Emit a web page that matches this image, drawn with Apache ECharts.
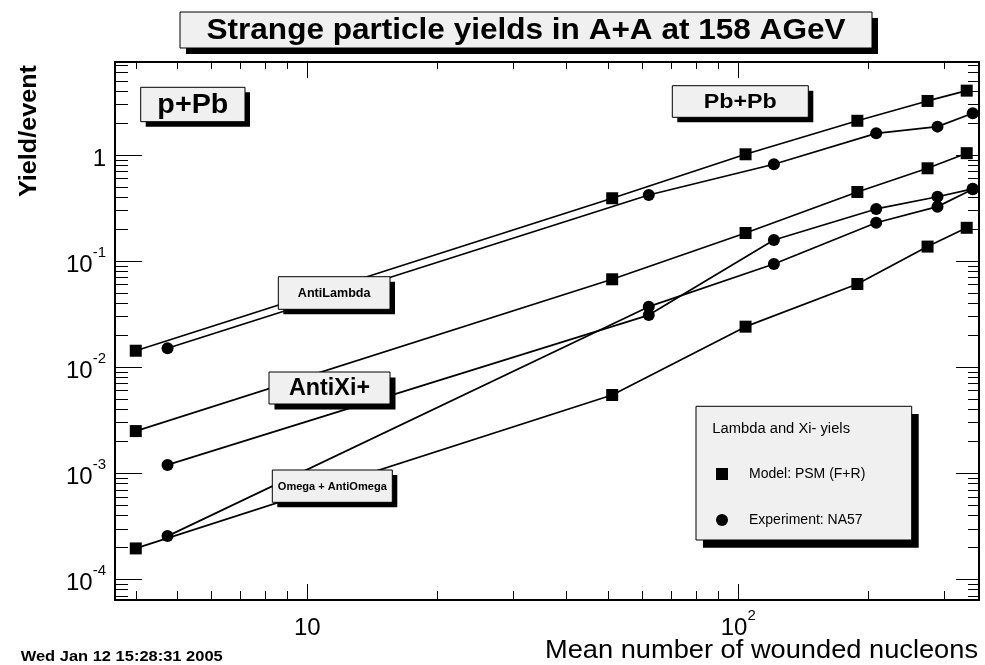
<!DOCTYPE html>
<html>
<head>
<meta charset="utf-8">
<script src="https://cdn.jsdelivr.net/npm/echarts@6/dist/echarts.min.js"></script>
<style>
  html, body { margin: 0; padding: 0; background: #ffffff; }
  #chart { width: 985px; height: 665px; }
</style>
</head>
<body>
<div id="chart"></div>
<script>
// Mean number of wounded nucleons for each centrality point
const modelNpart = [4, 51, 104, 189, 275, 339];
const expNpart = [4.74, 62, 121, 209, 290, 350];

// Yields per event
const antiLambdaModel = [0.0143, 0.391, 1.015, 2.10, 3.23, 4.04];
const antiLambdaExp = [0.0151, 0.420, 0.817, 1.60, 1.85, 2.47];
const antiXiModel = [0.0025, 0.0674, 0.184, 0.448, 0.749, 1.04];
const antiXiExp = [0.0012, 0.0310, 0.158, 0.310, 0.404, 0.480];
const omegaModel = [0.000196, 0.00547, 0.0241, 0.0608, 0.137, 0.206];
const omegaExp = [0.000256, 0.0372, 0.094, 0.230, 0.326, 0.475];

// Axis ticks
const xMajorTicks = [10, 100];
const yMajorTicks = [1e-4, 1e-3, 1e-2, 1e-1, 1];
const decadeMultipliers = [2, 3, 4, 5, 6, 7, 8, 9];

const X_MIN = 3.58, X_MAX = 362;
const Y_MIN = 6.4e-5, Y_MAX = 7.52;

const MODEL_NAME = 'Model: PSM (F+R)';
const EXP_NAME = 'Experiment: NA57';

const FONT = '"Liberation Sans", Arial, Helvetica, sans-serif';

function minorTicks(lo, hi) {
  const out = [];
  for (let e = Math.floor(Math.log10(lo)) - 1; e <= Math.ceil(Math.log10(hi)); e++) {
    decadeMultipliers.forEach(m => {
      const v = Number((m * Math.pow(10, e)).toPrecision(6));
      if (v >= lo && v <= hi) out.push(v);
    });
  }
  return out;
}
const xMinorTicks = minorTicks(X_MIN, X_MAX);
const yMinorTicks = minorTicks(Y_MIN, Y_MAX);

const pairs = (xs, ys) => xs.map((x, i) => [x, ys[i]]);

// Measure text so annotation strings can be fitted to a target width
const measureCtx = document.createElement('canvas').getContext('2d');
function fitScale(text, size, weight, target) {
  measureCtx.font = weight + ' ' + size + 'px "Liberation Sans"';
  return target / measureCtx.measureText(text).width;
}

const supRich = {
  n: { fontFamily: FONT, fontSize: 24, color: '#000', lineHeight: 32, verticalAlign: 'bottom' },
  s: { fontFamily: FONT, fontSize: 15, color: '#000', lineHeight: 15, verticalAlign: 'top' }
};

function xLabel(v) {
  const e = Math.round(Math.log10(v));
  return e === 1 ? '{n|10}' : '{n|10}{s|' + e + '}';
}
function yLabel(v) {
  const e = Math.round(Math.log10(v));
  return e === 0 ? '{n|1}' : '{n|10}{s|' + e + '}';
}

function logAxis(pos, min, max, ticks, len, label) {
  return {
    type: 'log',
    position: pos,
    min: min,
    max: max,
    axisLine: { show: false, onZero: false },
    splitLine: { show: false },
    minorTick: { show: false },
    axisTick: {
      show: true, inside: true, length: len, customValues: ticks,
      lineStyle: { color: '#000', width: 1 }
    },
    axisLabel: label ? label : { show: false }
  };
}

const xLabelCfg = {
  show: true, customValues: xMajorTicks, formatter: xLabel, rich: supRich, margin: 8
};
const yLabelCfg = {
  show: true, customValues: yMajorTicks, formatter: yLabel, rich: supRich, margin: 9
};

function lineSeries(name, xs, ys, symbol) {
  return {
    name: name,
    type: 'line',
    data: pairs(xs, ys),
    symbol: symbol,
    symbolSize: 12,
    showSymbol: true,
    lineStyle: { color: '#000', width: 1.7 },
    itemStyle: { color: '#000' },
    emphasis: { disabled: true },
    animation: false,
    z: 3
  };
}

// Framed label with a hard drop shadow
function labelBox(x, y, w, h, sh, text, size, weight, textWidth) {
  const sx = fitScale(text, size, weight, textWidth);
  return {
    type: 'group',
    children: [
      { type: 'rect', shape: { x: x + sh, y: y + sh, width: w, height: h }, style: { fill: '#000' }, z: 10 },
      { type: 'rect', shape: { x: x, y: y, width: w, height: h }, style: { fill: '#f0f0f0', stroke: '#000', lineWidth: 1 }, z: 11 },
      {
        type: 'text', x: x + w / 2, y: y + h / 2 + 1, scaleX: sx, z: 12,
        style: {
          text: text, fontFamily: FONT, fontSize: size, fontWeight: weight,
          fill: '#000', align: 'center', verticalAlign: 'middle'
        }
      }
    ]
  };
}

function plainText(text, x, y, size, weight, textWidth, align, rotation) {
  return {
    type: 'text', x: x, y: y, rotation: rotation || 0,
    scaleX: fitScale(text, size, weight, textWidth), z: 12,
    style: {
      text: text, fontFamily: FONT, fontSize: size, fontWeight: weight,
      fill: '#000', align: align, verticalAlign: 'middle'
    }
  };
}

const chart = echarts.init(document.getElementById('chart'), null, { renderer: 'canvas' });

chart.setOption({
  backgroundColor: '#ffffff',
  animation: false,
  grid: {
    left: 115, top: 62, width: 864, height: 538,
    show: true, borderColor: '#000', borderWidth: 2, backgroundColor: 'transparent'
  },
  xAxis: [
    logAxis('bottom', X_MIN, X_MAX, xMajorTicks, 16, xLabelCfg),
    logAxis('bottom', X_MIN, X_MAX, xMinorTicks, 9),
    logAxis('top', X_MIN, X_MAX, xMajorTicks, 16),
    logAxis('top', X_MIN, X_MAX, xMinorTicks, 7)
  ],
  yAxis: [
    logAxis('left', Y_MIN, Y_MAX, yMajorTicks, 27, yLabelCfg),
    logAxis('left', Y_MIN, Y_MAX, yMinorTicks, 13),
    logAxis('right', Y_MIN, Y_MAX, yMajorTicks, 23),
    logAxis('right', Y_MIN, Y_MAX, yMinorTicks, 11)
  ],
  legend: {
    show: true,
    left: 716,
    top: 467,
    orient: 'vertical',
    padding: 0,
    itemWidth: 12,
    itemHeight: 12,
    itemGap: 32,
    selectedMode: false,
    z: 20,
    textStyle: { fontFamily: FONT, fontSize: 14, color: '#000', padding: [0, 0, 0, 16] },
    data: [
      { name: MODEL_NAME, icon: 'rect' },
      { name: EXP_NAME, icon: 'circle' }
    ]
  },
  series: [
    lineSeries(MODEL_NAME, modelNpart, antiLambdaModel, 'rect'),
    lineSeries(EXP_NAME, expNpart, antiLambdaExp, 'circle'),
    lineSeries(MODEL_NAME, modelNpart, antiXiModel, 'rect'),
    lineSeries(EXP_NAME, expNpart, antiXiExp, 'circle'),
    lineSeries(MODEL_NAME, modelNpart, omegaModel, 'rect'),
    lineSeries(EXP_NAME, expNpart, omegaExp, 'circle')
  ],
  graphic: [
    labelBox(180, 12, 692, 36, 6, 'Strange particle yields in A+A at 158 AGeV', 29, 'bold', 639),
    labelBox(140.7, 87.3, 104.3, 34.4, 5, 'p+Pb', 27, 'bold', 71),
    labelBox(672.3, 85.7, 136, 31.6, 5, 'Pb+Pb', 21, 'bold', 73),
    labelBox(278.3, 276.7, 111.7, 32.6, 5, 'AntiLambda', 12, 'bold', 72.7),
    labelBox(269, 372, 121, 32, 5.5, 'AntiXi+', 23, 'bold', 81),
    labelBox(272.3, 470, 120, 32.3, 5, 'Omega + AntiOmega', 10, 'bold', 109),
    // legend frame
    { type: 'rect', shape: { x: 703, y: 414, width: 215.7, height: 133.7 }, style: { fill: '#000' }, z: 10 },
    { type: 'rect', shape: { x: 696, y: 406.3, width: 215.7, height: 133.7 }, style: { fill: '#f0f0f0', stroke: '#000', lineWidth: 1 }, z: 11 },
    plainText('Lambda and Xi- yiels', 712.3, 429.3, 14, 'normal', 137.7, 'left'),
    // axis titles and time stamp
    plainText('Mean number of wounded nucleons', 978, 651, 25, 'normal', 433, 'right'),
    plainText('Yield/event', 29, 131, 24, 'bold', 132, 'center', Math.PI / 2),
    plainText('Wed Jan 12 15:28:31 2005', 20.7, 656.7, 14, 'bold', 202, 'left')
  ]
});
</script>
</body>
</html>
